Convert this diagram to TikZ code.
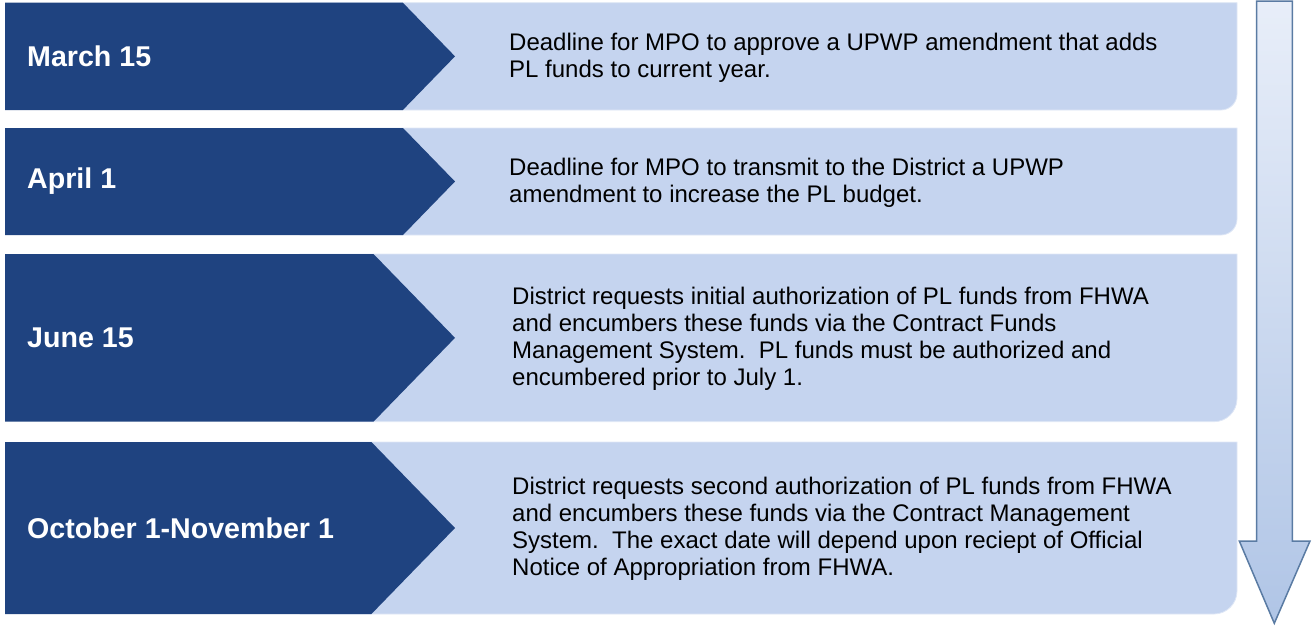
\documentclass[tikz,border=0pt]{standalone}
\usepackage{fontspec}
\setmainfont{Liberation Sans}
\usepackage{tikz}

\definecolor{datumblau}{RGB}{31,67,128}
\definecolor{feldblau}{RGB}{197,212,239}
\definecolor{pfeilrand}{RGB}{90,123,163}
\definecolor{pfeiloben}{RGB}{232,238,249}
\definecolor{pfeilunten}{RGB}{176,197,230}

\begin{document}
\begin{tikzpicture}[x=1pt,y=-1pt,
  datum/.style={anchor=west, inner sep=0pt, text=white, font=\bfseries\fontsize{28.6}{32}\selectfont},
  info/.style={anchor=west, inner sep=0pt, align=left, font=\fontsize{24}{27}\selectfont}]
  \useasboundingbox (0,0) rectangle (1312,625);

  % Zeilen: oben/unten/Radius/Textanfang/Datum/Text
  \foreach \ob/\un/\rad/\tx/\dat/\txt/\n in {
    2.7/110/16/509/{March 15}/{Deadline for MPO to approve a UPWP amendment that adds\\PL funds to current year.}/1,
    128/235/16/509/{April 1}/{Deadline for MPO to transmit to the District a UPWP\\amendment to increase the PL budget.}/2,
    254/421.7/23/512/{June 15}/{District requests initial authorization of PL funds from FHWA\\and encumbers these funds via the Contract Funds\\Management System.\ \ PL funds must be authorized and\\encumbered prior to July 1.}/3,
    442/614/23/512/{October 1-November 1}/{District requests second authorization of PL funds from FHWA\\and encumbers these funds via the Contract Management\\System.\ \ The exact date will depend upon reciept of Official\\Notice of Appropriation from FHWA.}/4} {
    \pgfmathsetmacro{\mitte}{(\ob+\un)/2}
    \pgfmathsetmacro{\spitze}{455-0.486*(\un-\ob)}
    % helles Feld
    \filldraw[fill=feldblau, draw=white!45!feldblau, line width=0.8pt]
      (300,\ob) -- (1237,\ob) -- (1237,\un-\rad) arc (0:90:\rad) -- (300,\un) -- cycle;
    % dunkles Fuenfeck
    \fill[datumblau] (5,\ob) -- (\spitze,\ob) -- (455,\mitte) -- (\spitze,\un) -- (5,\un) -- cycle;
    % Beschriftung
    \node[datum] (datum\n) at (27,\mitte) {\dat};
    \node[info] (info\n) at (\tx,\mitte+1) {\txt};
  }

  % Pfeil nach unten
  \draw[pfeilrand, line width=1.5pt, top color=pfeiloben, bottom color=pfeilunten]
    (1256.7,1) -- (1292.3,1) -- (1292.3,541) -- (1310,541) -- (1274.3,623.3)
    -- (1239.3,541) -- (1256.7,541) -- cycle;

\end{tikzpicture}
\end{document}
